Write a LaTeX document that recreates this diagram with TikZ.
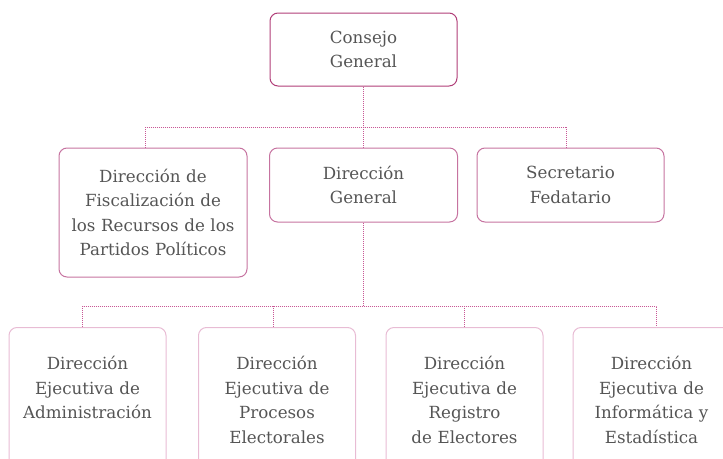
\documentclass[tikz,border=0pt]{standalone}
\usepackage{fontspec}
\setmainfont{DejaVu Serif}
\definecolor{topline}{RGB}{176,62,120}
\definecolor{midline}{RGB}{198,115,160}
\definecolor{lowline}{RGB}{232,188,212}
\definecolor{linkcol}{RGB}{200,88,150}
\definecolor{txtgray}{RGB}{85,85,85}
\tikzset{
  orgbox/.style={draw, rounded corners=8pt, align=center, text=txtgray,
    font=\fontsize{16.7}{24.5}\selectfont, line width=1pt, inner xsep=4pt},
  topbox/.style={orgbox, draw=topline, text width=179pt, minimum height=73pt},
  midbox/.style={orgbox, draw=midline, text width=180pt, minimum height=74pt},
  lowbox/.style={orgbox, draw=lowline, text width=149pt, anchor=north,
    inner ysep=30pt, text height=12pt, text depth=120pt},
  link/.style={draw=linkcol, line width=1pt, dash pattern=on 1pt off 1pt}
}
\begin{document}
\begin{tikzpicture}[x=1pt,y=-1pt]
  \useasboundingbox (0,0) rectangle (723,458);
  \clip (0,0) rectangle (723,458);
  % consejo
  \node[topbox] (cg) at (363.5,49.5) {Consejo\\General};
  % second row
  \node[midbox, minimum height=129pt] (dfp) at (153,212.5) {Dirección de\\Fiscalización de\\los Recursos de los\\Partidos Políticos};
  \node[midbox] (dg) at (363.5,185) {Dirección\\General};
  \node[midbox, text width=179pt] (sf) at (570.5,185) {Secretario\\Fedatario};
  % third row
  \node[lowbox] (dea) at (87.5,327) {Dirección\\Ejecutiva de\\Administración};
  \node[lowbox] (dep) at (277,327) {Dirección\\Ejecutiva de\\Procesos\\Electorales};
  \node[lowbox] (der) at (464.5,327) {Dirección\\Ejecutiva de\\Registro\\de Electores};
  \node[lowbox] (dei) at (651.5,327) {Dirección\\Ejecutiva de\\Informática y\\Estadística};
  % lines
  \coordinate (bus1) at (363.5,127);
  \coordinate (bus2) at (363.5,306);
  \draw[link] (cg.south) -- (bus1);
  \draw[link] ([xshift=-8pt]dfp.north) |- (bus1) -| ([xshift=-4pt]sf.north);
  \draw[link] (bus1) -- (dg.north);
  \draw[link] (dg.south) -- (bus2);
  \draw[link] ([xshift=-5pt]dea.north) |- (bus2) -| ([xshift=5pt]dei.north);
  \draw[link] ([xshift=-4pt]dep.north) -- ([xshift=-4pt]dep.north |- bus2);
  \draw[link] (der.north) -- (der.north |- bus2);
\end{tikzpicture}
\end{document}
